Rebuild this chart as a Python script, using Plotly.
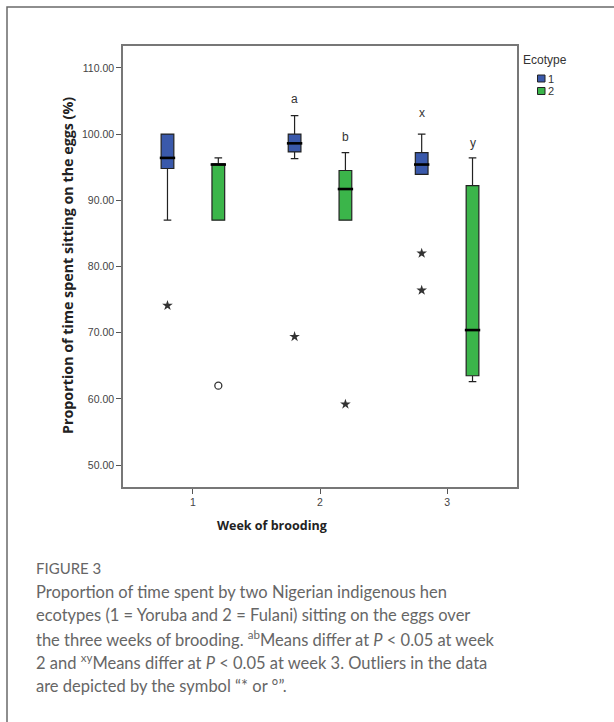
import plotly.graph_objects as go

# ---------------- data ----------------
weeks = [1, 2, 3]
ecotypes = ["1", "2"]
colors = {"1": "#3a59ab", "2": "#3bb54a"}

# five-number summaries per ecotype, per week
upper = {"1": [100.0, 102.8, 100.0], "2": [96.4, 97.2, 96.4]}
q3 = {"1": [100.0, 100.0, 97.2], "2": [95.5, 94.5, 92.2]}
median = {"1": [96.4, 98.6, 95.4], "2": [95.4, 91.7, 70.4]}
q1 = {"1": [94.8, 97.3, 93.9], "2": [87.0, 87.0, 63.5]}
lower = {"1": [87.0, 96.3, 93.9], "2": [87.0, 87.0, 62.6]}

# outliers: (week, value, symbol kind)
outliers = {
    "1": [(1, 74.1, "star"), (2, 69.4, "star"), (3, 82.0, "star"), (3, 76.4, "star")],
    "2": [(1, 62.0, "circle"), (2, 59.2, "star")],
}

# significance letters: (week, ecotype, y, label)
letters = [(2, "1", 105.3, "a"), (2, "2", 99.6, "b"), (3, "1", 103.2, "x"), (3, "2", 98.7, "y")]

yticks = [50, 60, 70, 80, 90, 100, 110]

# ---------------- style ----------------
offset = {"1": -0.2, "2": 0.2}
BOXW = 0.1
W, H = 614, 722
L, R, T, B = 123, 97, 46, 235
PW, PH = W - L - R, H - T - B


def px(xp):
    return (xp - L) / PW


def py(yp):
    return (H - B - yp) / PH


fig = go.Figure()

for e in ecotypes:
    xs = [w + offset[e] for w in weeks]
    fig.add_trace(go.Box(
        x=xs, q1=q1[e], median=median[e], q3=q3[e],
        lowerfence=lower[e], upperfence=upper[e],
        width=BOXW, whiskerwidth=0.6,
        fillcolor=colors[e], line=dict(color="#222222", width=1.2),
        boxpoints=False, showlegend=False, hoverinfo="skip",
    ))
    # thick median bars
    fig.add_trace(go.Scatter(
        x=xs, y=median[e], mode="markers",
        marker=dict(symbol="line-ew", size=11, line=dict(color="#000000", width=2.6)),
        showlegend=False, hoverinfo="skip",
    ))

for e in ecotypes:
    stars = [o for o in outliers[e] if o[2] == "star"]
    circs = [o for o in outliers[e] if o[2] == "circle"]
    if stars:
        fig.add_trace(go.Scatter(
            x=[o[0] + offset[e] for o in stars], y=[o[1] for o in stars], mode="markers",
            marker=dict(symbol="star", size=8, color="#333333", line=dict(width=0)),
            showlegend=False, hoverinfo="skip",
        ))
    if circs:
        fig.add_trace(go.Scatter(
            x=[o[0] + offset[e] for o in circs], y=[o[1] for o in circs], mode="markers",
            marker=dict(symbol="circle-open", size=7, color="#333333", line=dict(width=1.3)),
            showlegend=False, hoverinfo="skip",
        ))

annotations = []
for w, e, yv, lab in letters:
    annotations.append(dict(x=w + offset[e], y=yv, xref="x", yref="y", text=lab, showarrow=False,
                            xanchor="center", yanchor="middle",
                            font=dict(family="Liberation Sans", size=12, color="#333333")))

# axis titles
annotations.append(dict(x=px(67), y=py(266), xref="paper", yref="paper", textangle=-90,
                        xanchor="center", yanchor="middle",
                        text="<b>Proportion of time spent sitting on the eggs (%)</b>", showarrow=False,
                        font=dict(family="Open Sans", size=14.3, color="#222222")))
annotations.append(dict(x=px(272), y=py(525), xref="paper", yref="paper",
                        xanchor="center", yanchor="middle",
                        text="<b>Week of brooding</b>", showarrow=False,
                        font=dict(family="Open Sans", size=12.5, color="#222222")))

# legend (manual)
annotations.append(dict(x=px(521), y=py(60), xref="paper", yref="paper", xanchor="left", yanchor="middle",
                        text="Ecotype", showarrow=False,
                        font=dict(family="Liberation Sans", size=12, color="#333333")))
shapes = []
for i, e in enumerate(ecotypes):
    yc = 78.5 + 12.5 * i
    shapes.append(dict(type="rect", xref="paper", yref="paper",
                       x0=px(537.5), x1=px(545), y0=py(yc - 3.5), y1=py(yc + 3.5),
                       fillcolor=colors[e], line=dict(color="#222222", width=1)))
    annotations.append(dict(x=px(545.5), y=py(yc), xref="paper", yref="paper", xanchor="left", yanchor="middle",
                            text=e, showarrow=False,
                            font=dict(family="Liberation Sans", size=11, color="#333333")))

# outer frame
shapes.append(dict(type="rect", xref="paper", yref="paper",
                   x0=px(7), x1=px(640), y0=py(7), y1=py(760),
                   line=dict(color="#6a6a6a", width=1.5), fillcolor="rgba(0,0,0,0)", layer="below"))

# caption
cap_font = dict(family="Lato", size=16.5, color="#666666")
annotations.append(dict(x=px(34), y=py(568), xref="paper", yref="paper", xanchor="left", yanchor="middle",
                        text="FIGURE 3", showarrow=False,
                        font=dict(family="Lato", size=15, color="#666666")))
cap_lines = [
    "Proportion of time spent by two Nigerian indigenous hen",
    "ecotypes (1 = Yoruba and 2 = Fulani) sitting on the eggs over",
    "the three weeks of brooding. <sup>ab</sup>Means differ at <i>P</i> &lt; 0.05 at week",
    "2 and <sup>xy</sup>Means differ at <i>P</i> &lt; 0.05 at week 3. Outliers in the data",
    "are depicted by the symbol \u201c* or \u00b0\u201d.",
]
cap_y = [592, 615, 639, 662, 686]
for t, yv in zip(cap_lines, cap_y):
    annotations.append(dict(x=px(34), y=py(yv), xref="paper", yref="paper", xanchor="left", yanchor="middle",
                            text=t, showarrow=False, font=cap_font))

fig.update_layout(
    width=W, height=H,
    margin=dict(l=L, r=R, t=T, b=B),
    paper_bgcolor="white", plot_bgcolor="white",
    showlegend=False,
    annotations=annotations, shapes=shapes,
    xaxis=dict(range=[0.45, 3.55], tickvals=weeks, ticktext=[str(w) for w in weeks],
               ticks="outside", ticklen=5, tickcolor="#555555", tickwidth=1.2,
               showline=True, mirror=True, linecolor="#777777", linewidth=1.5,
               showgrid=False, zeroline=False,
               tickfont=dict(family="Liberation Sans", size=10.5, color="#444444")),
    yaxis=dict(range=[46.7, 113.3], tickvals=yticks, ticktext=["%.2f" % v for v in yticks],
               ticks="outside", ticklen=5, tickcolor="#555555", tickwidth=1.2,
               showline=True, mirror=True, linecolor="#777777", linewidth=1.5,
               showgrid=False, zeroline=False,
               tickfont=dict(family="Liberation Sans", size=10.5, color="#444444")),
)

fig.write_html("out.html")
